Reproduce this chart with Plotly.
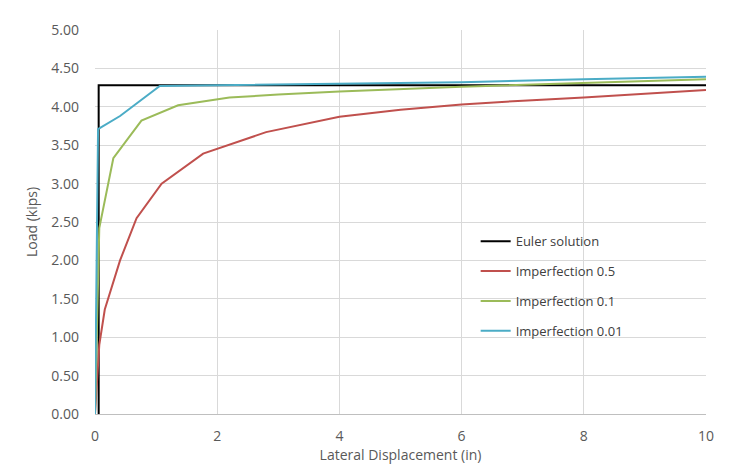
import plotly.graph_objects as go

euler_x = [0.06, 0.06, 10]
euler_y = [0, 4.28, 4.28]

imp05_x = [0, 0.03, 0.07, 0.16, 0.41, 0.68, 1.09, 1.77, 2.8, 4.0, 5.0, 6.0, 7.0, 8.0, 9.0, 10]
imp05_y = [0, 0.43, 0.9, 1.36, 2.0, 2.55, 3.0, 3.39, 3.67, 3.87, 3.96, 4.03, 4.08, 4.12, 4.17, 4.22]

imp01_x = [0, 0.07, 0.30, 0.76, 1.36, 2.2, 3.0, 4.0, 6.0, 8.0, 10]
imp01_y = [0, 2.42, 3.33, 3.82, 4.02, 4.12, 4.16, 4.20, 4.26, 4.31, 4.36]

imp001_x = [0, 0.05, 0.41, 1.06, 2.0, 4.0, 6.0, 8.0, 10]
imp001_y = [0, 3.71, 3.88, 4.27, 4.28, 4.30, 4.32, 4.36, 4.39]

y_ticks = [0, 0.5, 1, 1.5, 2, 2.5, 3, 3.5, 4, 4.5, 5]
x_ticks = [0, 2, 4, 6, 8, 10]

fig = go.Figure()
series = [
    ("Euler solution", euler_x, euler_y, "#000000"),
    ("Imperfection 0.5", imp05_x, imp05_y, "#C0504D"),
    ("Imperfection 0.1", imp01_x, imp01_y, "#9BBB59"),
    ("Imperfection 0.01", imp001_x, imp001_y, "#4BACC6"),
]
for i, (name, xs, ys, col) in enumerate(series):
    fig.add_trace(go.Scatter(x=xs, y=ys, mode="lines", name=name,
                             legendgroup=f"g{i}",
                             line=dict(color=col, width=2)))

fig.update_layout(
    width=723, height=463,
    margin=dict(l=87, r=25, t=12, b=57),
    paper_bgcolor="white", plot_bgcolor="white",
    font=dict(family="Open Sans", size=13, color="#595959"),
    legend=dict(x=0.623, y=0.489, xanchor="left", yanchor="top",
                bgcolor="rgba(255,255,255,0)", tracegroupgap=10,
                font=dict(size=13, color="#404040")),
    xaxis=dict(range=[0, 10], tickvals=x_ticks, showgrid=True,
               gridcolor="#d9d9d9", gridwidth=1, zeroline=False,
               showline=True, linecolor="#bfbfbf", linewidth=1,
               ticks="", ticklabelstandoff=9,
               tickfont=dict(size=14),
               title=dict(text="Lateral Displacement (in)", standoff=2,
                          font=dict(size=14, color="#595959"))),
    yaxis=dict(range=[0, 5], tickvals=y_ticks, tickformat=".2f",
               showgrid=True, gridcolor="#d9d9d9", gridwidth=1,
               zeroline=False, showline=False, ticks="",
               ticklabelstandoff=15, tickfont=dict(size=14),
               title=dict(text="Load (kips)", standoff=10,
                          font=dict(size=14, color="#595959"))),
)
fig.write_html("out.html")
